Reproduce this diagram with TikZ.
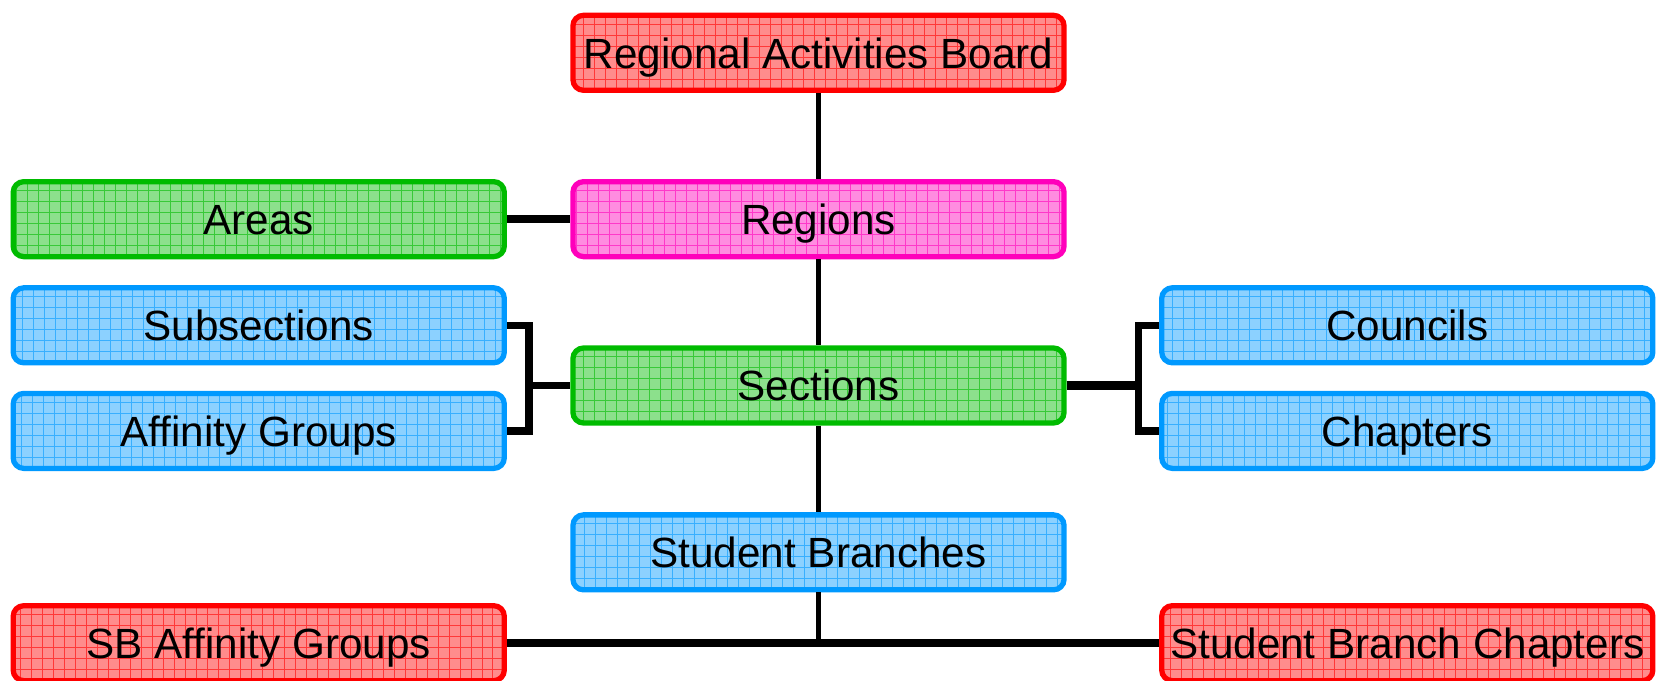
\documentclass[tikz,border=0pt]{standalone}
\usepackage{fontspec}
\setmainfont{Liberation Sans}
\definecolor{bred}{HTML}{FF0000}
\definecolor{bgreen}{HTML}{00BB00}
\definecolor{bmag}{HTML}{FF00BB}
\definecolor{bblue}{HTML}{0099FF}
\tikzset{
  box/.style={draw=#1, fill=#1!45!white, line width=2.5pt, rounded corners=5pt,
    minimum width=232.5pt, minimum height=35.5pt, inner sep=0pt,
    text height=14.5pt, text depth=0pt,
    font=\fontsize{20}{24}\selectfont, text=black,
    path picture={\draw[#1, line width=0.45pt, opacity=0.6, step=5.2pt]
      (path picture bounding box.south west) grid (path picture bounding box.north east);}},
  thin/.style={line width=2.5pt, draw=black},
  thick/.style={line width=4pt, draw=black},
  brack/.style={line width=3.5pt, draw=black, line join=miter}
}
\begin{document}
\begin{tikzpicture}[x=0.5pt, y=-0.5pt]
\useasboundingbox (0,0) rectangle (1568,644);
\begin{scope}
\clip (0,0) rectangle (1568,644);
\node[box=bred]   (rab)      at (775,50)     {Regional Activities Board};
\node[box=bgreen] (areas)    at (245,207.5)  {Areas};
\node[box=bmag]   (regions)  at (775,207.5)  {Regions};
\node[box=bblue]  (subs)     at (245,308)    {Subsections};
\node[box=bblue]  (aff)      at (245,408)    {Affinity Groups};
\node[box=bgreen] (sections) at (775,365)    {Sections};
\node[box=bblue]  (councils) at (1332.5,308) {Councils};
\node[box=bblue]  (chapters) at (1332.5,408) {Chapters};
\node[box=bblue]  (sb)       at (775,523)    {Student Branches};
\node[box=bred]   (sbaff)    at (245,609)    {SB Affinity Groups};
\node[box=bred]   (sbc)      at (1332.5,609) {Student Branch Chapters};

\coordinate (lb) at (501,365);
\coordinate (rb) at (1078,365);
\coordinate (bj) at (775,609);

\draw[thin] (rab.south) -- (regions.north);
\draw[thin] (regions.south) -- (sections.north);
\draw[thin] (sections.south) -- (sb.north);
\draw[thick] (areas.east) -- (regions.west);
\draw[brack] (subs.east) -| (lb) |- (aff.east);
\draw[brack] (lb) -- (sections.west);
\draw[thick] (sections.east) -- (rb);
\draw[brack] (councils.west) -| (rb) |- (chapters.west);
\draw[thin] (sb.south) -- (bj);
\draw[thick] (sbaff.east) -- (sbc.west);
\end{scope}
\end{tikzpicture}
\end{document}
